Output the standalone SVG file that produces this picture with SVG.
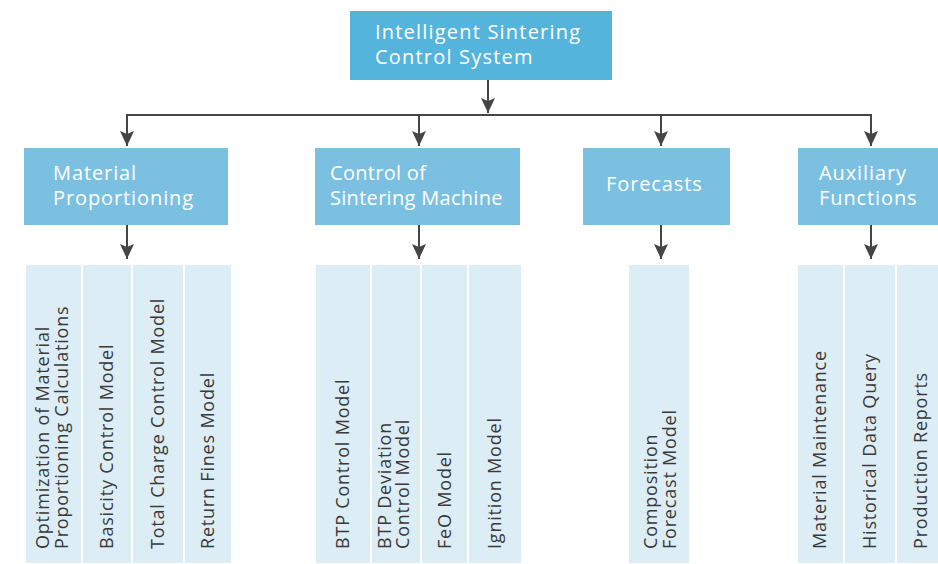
<svg xmlns="http://www.w3.org/2000/svg" width="938" height="564" viewBox="0 0 938 564">
<defs>
<marker id="arr" markerUnits="userSpaceOnUse" markerWidth="16" markerHeight="16" viewBox="0 0 16 16" refX="15" refY="8" orient="auto">
<path d="M0,1 L15,8 L0,15 L3,8 Z" fill="#454545"/>
</marker>
<style>
.root{fill:#55b4dc}
.cat{fill:#7bc0e1}
.leaf{fill:#dcedf6}
.ht{font-family:"Open Sans","Noto Sans",sans-serif;font-size:20px;letter-spacing:0.9px;fill:#ffffff}
.lt{font-family:"Open Sans","Noto Sans",sans-serif;font-size:18px;letter-spacing:0.8px;fill:#3a3a3a}
.con{stroke:#454545;stroke-width:2;fill:none}
</style>
</defs>
<rect width="938" height="564" fill="#ffffff"/>

<g id="connectors">
<path class="con" d="M488,80 V113" marker-end="url(#arr)"/>
<path class="con" d="M127,115 H871"/>
<path class="con" d="M127,114 V146" marker-end="url(#arr)"/>
<path class="con" d="M419,114 V146" marker-end="url(#arr)"/>
<path class="con" d="M661,114 V146" marker-end="url(#arr)"/>
<path class="con" d="M871,114 V146" marker-end="url(#arr)"/>
<path class="con" d="M127,225 V259" marker-end="url(#arr)"/>
<path class="con" d="M419,225 V259" marker-end="url(#arr)"/>
<path class="con" d="M661,225 V259" marker-end="url(#arr)"/>
<path class="con" d="M871,225 V259" marker-end="url(#arr)"/>
</g>

<g id="root">
<rect class="root" x="350" y="11" width="262" height="69"/>
<text class="ht" x="375" y="39" style="letter-spacing:1.2px">Intelligent Sintering</text>
<text class="ht" x="375" y="64" style="letter-spacing:1.2px">Control System</text>
</g>

<g id="material-proportioning">
<rect class="cat" x="24" y="148" width="204" height="77"/>
<text class="ht" x="53" y="180">Material</text>
<text class="ht" x="53" y="205">Proportioning</text>
</g>
<g id="control-sintering">
<rect class="cat" x="315" y="148" width="205" height="77"/>
<text class="ht" x="330" y="180" style="letter-spacing:0.3px">Control of</text>
<text class="ht" x="330" y="205" style="letter-spacing:0.3px">Sintering Machine</text>
</g>
<g id="forecasts">
<rect class="cat" x="583" y="148" width="147" height="77"/>
<text class="ht" x="606" y="191">Forecasts</text>
</g>
<g id="auxiliary">
<rect class="cat" x="798" y="148" width="140" height="77"/>
<text class="ht" x="819" y="180">Auxiliary</text>
<text class="ht" x="819" y="205">Functions</text>
</g>

<g id="leaf-optimization">
<rect class="leaf" x="26" y="265" width="55" height="298"/>
<text class="lt" transform="translate(49,549) rotate(-90)">Optimization of Material</text>
<text class="lt" transform="translate(68,549) rotate(-90)">Proportioning Calculations</text>
</g>
<g id="leaf-basicity">
<rect class="leaf" x="83" y="265" width="48" height="298"/>
<text class="lt" transform="translate(113,549) rotate(-90)">Basicity Control Model</text>
</g>
<g id="leaf-total-charge">
<rect class="leaf" x="133" y="265" width="50" height="298"/>
<text class="lt" transform="translate(164,549) rotate(-90)">Total Charge Control Model</text>
</g>
<g id="leaf-return-fines">
<rect class="leaf" x="185" y="265" width="46" height="298"/>
<text class="lt" transform="translate(214,549) rotate(-90)">Return Fines Model</text>
</g>

<g id="leaf-btp">
<rect class="leaf" x="316" y="265" width="54" height="298"/>
<text class="lt" transform="translate(349,549) rotate(-90)">BTP Control Model</text>
</g>
<g id="leaf-btp-deviation">
<rect class="leaf" x="372" y="265" width="48" height="298"/>
<text class="lt" transform="translate(391,549) rotate(-90)">BTP Deviation</text>
<text class="lt" transform="translate(409,549) rotate(-90)">Control Model</text>
</g>
<g id="leaf-feo">
<rect class="leaf" x="422" y="265" width="45" height="298"/>
<text class="lt" transform="translate(451,549) rotate(-90)">FeO Model</text>
</g>
<g id="leaf-ignition">
<rect class="leaf" x="469" y="265" width="52" height="298"/>
<text class="lt" transform="translate(501,549) rotate(-90)">Ignition Model</text>
</g>

<g id="leaf-composition">
<rect class="leaf" x="629" y="265" width="60" height="298"/>
<text class="lt" transform="translate(657,549) rotate(-90)">Composition</text>
<text class="lt" transform="translate(676,549) rotate(-90)">Forecast Model</text>
</g>

<g id="leaf-material-maintenance">
<rect class="leaf" x="798" y="265" width="45" height="298"/>
<text class="lt" transform="translate(826,549) rotate(-90)">Material Maintenance</text>
</g>
<g id="leaf-historical">
<rect class="leaf" x="845" y="265" width="50" height="298"/>
<text class="lt" transform="translate(876,549) rotate(-90)">Historical Data Query</text>
</g>
<g id="leaf-production">
<rect class="leaf" x="897" y="265" width="41" height="298"/>
<text class="lt" transform="translate(927,549) rotate(-90)">Production Reports</text>
</g>
</svg>
